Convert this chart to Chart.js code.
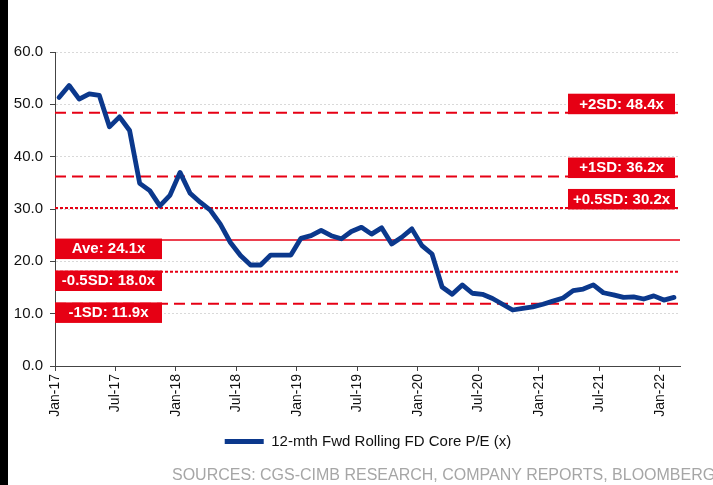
<!DOCTYPE html>
<html><head><meta charset="utf-8">
<script src="https://cdn.jsdelivr.net/npm/chart.js@4.4.1/dist/chart.umd.min.js"></script>
<style>
html,body{margin:0;padding:0;background:#fff;width:713px;height:485px;overflow:hidden;}
#wrap{position:relative;width:713px;height:485px;overflow:hidden;}
#bar{position:absolute;left:0;top:0;width:8px;height:485px;background:#000;}
#src{position:absolute;left:172px;top:466px;white-space:nowrap;font-family:"Liberation Sans",Arial,sans-serif;font-size:16px;color:#a6a6a6;}
canvas{position:absolute;left:0;top:0;}
</style></head><body>
<div id="wrap"><canvas id="c" width="713" height="485"></canvas><div id="bar"></div><div id="src">SOURCES: CGS-CIMB RESEARCH, COMPANY REPORTS, BLOOMBERG</div></div>
<script>
// ---- data ----
const tickLabels = ['Jan-17','Jul-17','Jan-18','Jul-18','Jan-19','Jul-19','Jan-20','Jul-20','Jan-21','Jul-21','Jan-22'];
const seriesName = '12-mth Fwd Rolling FD Core P/E (x)';
// monthly values Jan-17 .. Feb-22
const peValues = [51.3,53.6,51.0,52.0,51.7,45.7,47.6,45.0,34.9,33.5,30.6,32.6,
                  37.0,33.0,31.3,29.8,27.1,23.6,21.1,19.3,19.3,21.2,21.2,21.2,
                  24.4,24.9,25.9,24.9,24.3,25.7,26.5,25.2,26.4,23.3,24.6,26.2,
                  23.0,21.4,15.1,13.7,15.5,13.9,13.7,12.9,11.8,10.7,11.0,11.3,
                  11.8,12.4,13.0,14.4,14.7,15.5,14.0,13.6,13.1,13.2,12.8,13.4,
                  12.6,13.1];
const refValues = [48.4, 36.2, 30.2, 24.1, 18.0, 11.9];
const refLabels = ['+2SD: 48.4x','+1SD: 36.2x','+0.5SD: 30.2x','Ave: 24.1x','-0.5SD: 18.0x','-1SD: 11.9x'];

// ---- styles ----
const RED = '#e60014';
const BLUE = '#0b388c';
const refDash = [[11,6],[11,6],[3,2],[],[3,2],[11,6]];
const refWidth = [2,2,2,1.5,2,2];
const refSide = ['right','right','right','left','left','left'];
const MONTHS_PER_TICK = 6;
const X_MAX = 62;
const POINT_SHIFT = 0.4;
const LEGEND_SHIFT = 28;

const datasets = [{
  label: seriesName,
  data: peValues.map((v,i)=>({x:i+POINT_SHIFT,y:v})),
  borderColor: BLUE, backgroundColor: BLUE,
  borderWidth: 4.8, pointRadius: 0, tension: 0,
  borderJoinStyle: 'round', borderCapStyle: 'round',
  pointStyle: 'line'
}];
refValues.forEach((v,k)=>{
  datasets.push({
    label: refLabels[k],
    data: [{x:0,y:v},{x:X_MAX,y:v}],
    borderColor: RED, borderWidth: refWidth[k], borderDash: refDash[k],
    pointRadius: 0, tension: 0, isRef: true
  });
});

const boxPlugin = {
  id: 'refBoxes',
  afterLayout(chart){
    const l = chart.legend;
    if (l) { l.left += LEGEND_SHIFT; l.right += LEGEND_SHIFT; }
  },
  afterDatasetsDraw(chart){
    const {ctx, chartArea, scales:{y}} = chart;
    ctx.save();
    ctx.font = 'bold 15px "Liberation Sans", Arial, sans-serif';
    ctx.textAlign = 'center';
    ctx.textBaseline = 'middle';
    const W = 107, H = 20.5;
    refValues.forEach((v,k)=>{
      const ly = y.getPixelForValue(v);
      let bx, by;
      if (refSide[k] === 'right') { bx = chartArea.right - 5 - W; by = ly - 19; }
      else { bx = chartArea.left; by = ly - 1.3; }
      ctx.fillStyle = RED;
      ctx.fillRect(bx, by, W, H);
      ctx.fillStyle = '#fff';
      ctx.fillText(refLabels[k], bx + W/2, by + H/2 + 0.5);
    });
    ctx.restore();
  }
};

const FONT = '"Liberation Sans", Arial, sans-serif';
new Chart(document.getElementById('c'), {
  type: 'line',
  data: { datasets },
  plugins: [boxPlugin],
  options: {
    responsive: false, animation: false, devicePixelRatio: 1,
    layout: { padding: { left: 0, top: 52, right: 33, bottom: 26 } },
    plugins: {
      tooltip: { enabled: false },
      legend: {
        position: 'bottom',
        labels: {
          filter: (item, data) => !data.datasets[item.datasetIndex].isRef,
          usePointStyle: true, pointStyleWidth: 39, boxHeight: 14, padding: 10,
          color: '#111', font: { family: FONT, size: 15 }
        }
      }
    },
    scales: {
      x: {
        type: 'linear', min: 0, max: X_MAX,
        afterFit: s => { s.height = 58; },
        afterBuildTicks: s => { s.ticks = tickLabels.map((_,k)=>({value:k*MONTHS_PER_TICK})); },
        ticks: {
          autoSkip: false, minRotation: 90, maxRotation: 90, padding: 3,
          color: '#111', font: { family: FONT, size: 14 },
          callback: (val) => tickLabels[Math.round(val / MONTHS_PER_TICK)]
        },
        grid: { drawOnChartArea: false, drawTicks: true, tickLength: 5, tickColor: '#444', tickWidth: 1 },
        border: { display: true, color: '#444', width: 1 }
      },
      y: {
        min: 0, max: 60,
        afterFit: s => { s.width = 55; },
        ticks: {
          stepSize: 10, padding: 7, color: '#111', font: { family: FONT, size: 15 },
          callback: v => v.toFixed(1)
        },
        grid: {
          color: ctx => ctx.tick && ctx.tick.value === 0 ? 'rgba(0,0,0,0)' : '#d9d9d9',
          lineWidth: 1, tickLength: 5, tickColor: '#444', tickWidth: 1, tickBorderDash: []
        },
        border: { display: true, color: '#444', width: 1, dash: [2,2] }
      }
    }
  }
});
</script>
</body></html>
